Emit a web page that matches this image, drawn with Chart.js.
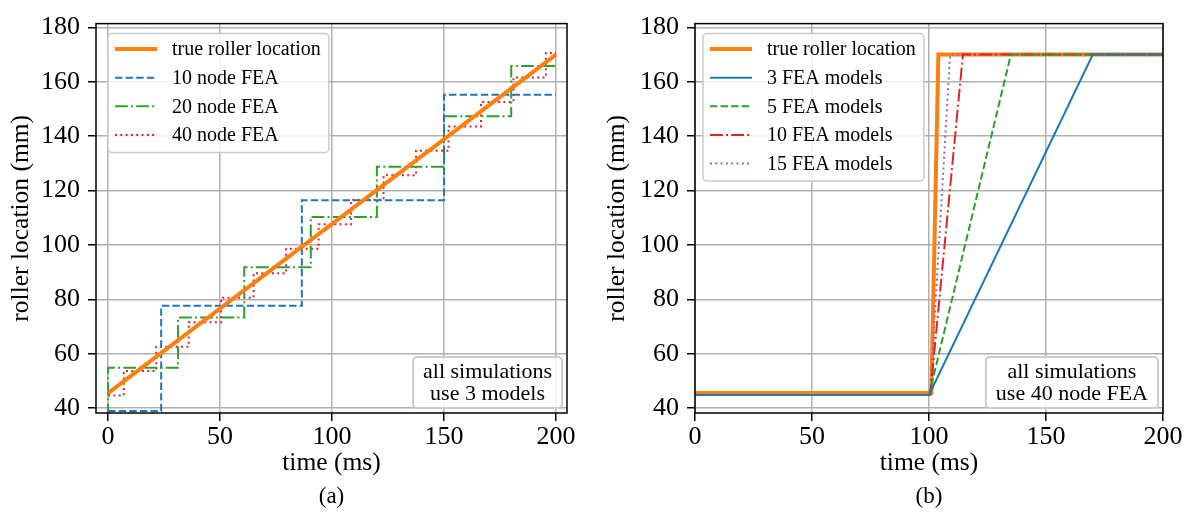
<!doctype html>
<html lang="en">
<head>
  <meta charset="UTF-8">
  <title>Roller location</title>
  <script src="https://cdn.jsdelivr.net/npm/chart.js@4.4.0/dist/chart.umd.min.js"></script>
  <style>
    body { margin: 0; background: #fff; }
    .wrap { position: relative; width: 1192px; height: 516px; }
    canvas { position: absolute; top: 0; }
    #chartA { left: 0; }
    #chartB { left: 596px; }
  </style>
</head>
<body>
<div class="wrap">
  <canvas id="chartA" width="596" height="516"></canvas>
  <canvas id="chartB" width="596" height="516"></canvas>
</div>
<script>
  // (a) all simulations use 3 models
  const timeTrueA = [0, 200];
  const trueA = [45.5, 170];
  const time10 = [0, 23.7, 86.5, 150, 200];
  const fea10 = [38.9, 77.6, 116.4, 155.2, 155.2];
  const time20 = [0, 0, 31.2, 60.8, 90.5, 120, 150, 180, 200];
  const fea20 = [37, 54.8, 73.3, 91.8, 110.3, 128.8, 147.3, 165.8, 165.8];
  const time40 = [0, 7, 21.5, 36, 50.5, 65, 79.5, 94, 108.5, 123, 137.5, 152, 166.5, 181, 195.5, 200];
  const fea40 = [44.6, 53.6, 62.6, 71.6, 80.6, 89.6, 98.6, 107.6, 116.6, 125.6, 134.6, 143.6, 152.6, 161.6, 170.6, 170.6];

  // (b) all simulations use 40 node FEA
  const timeTrueB = [0, 101, 104, 200];
  const trueB = [45.6, 45.6, 170, 170];
  const time3 = [0, 100, 170, 200];
  const models3 = [44.8, 44.8, 170, 170];
  const time5 = [0, 100, 135, 200];
  const models5 = [44.8, 44.8, 170, 170];
  const time10m = [0, 100.5, 114.5, 200];
  const models10 = [44.8, 44.8, 170, 170];
  const time15 = [0, 100.5, 109, 200];
  const models15 = [44.8, 44.8, 170, 170];

  const xTicks = [0, 50, 100, 150, 200];
  const yTicks = [40, 60, 80, 100, 120, 140, 160, 180];

  const serif = "'Liberation Serif', 'Times New Roman', serif";
  Chart.defaults.font.family = serif;
  Chart.defaults.color = '#000';

  const pts = (xs, ys) => xs.map((x, i) => ({ x: x, y: ys[i] }));

  function line(label, xs, ys, color, width, dash, stepped, order) {
    return {
      label: label,
      data: pts(xs, ys),
      borderColor: color,
      borderWidth: width,
      borderDash: dash,
      stepped: stepped || false,
      borderJoinStyle: 'miter',
      pointRadius: 0,
      fill: false,
      tension: 0,
      order: order || 0
    };
  }

  const DASHED = [7.4, 3.2];
  const DASHDOT = [12.8, 3.2, 2, 3.2];
  const DOTTED = [2, 3.3];

  // box, legend, note and caption drawn in matplotlib style
  const decor = {
    id: 'decor',
    afterDatasetsDraw(chart, args, o) {
      const { ctx, chartArea: a } = chart;
      ctx.save();
      ctx.strokeStyle = '#000';
      ctx.lineWidth = 1.5;
      ctx.setLineDash([]);
      ctx.strokeRect(a.left, a.top, a.right - a.left, a.bottom - a.top);

      // legend
      const rowH = 28.6;
      const sets = chart.data.datasets;
      ctx.font = '20px ' + serif;
      let tw = 0;
      sets.forEach(d => { tw = Math.max(tw, ctx.measureText(d.label).width); });
      const bx = a.left + o.legendDx, by = a.top + 10;
      const bw = 64 + tw + 8, bh = sets.length * rowH + 4.5;
      ctx.beginPath();
      ctx.roundRect(bx, by, bw, bh, 4);
      ctx.fillStyle = 'rgba(255,255,255,0.85)';
      ctx.fill();
      ctx.strokeStyle = '#cccccc';
      ctx.lineWidth = 1.5;
      ctx.stroke();
      sets.forEach((d, i) => {
        const y = by + 15.5 + i * rowH;
        ctx.beginPath();
        ctx.setLineDash(d.borderDash || []);
        ctx.strokeStyle = d.borderColor;
        ctx.lineWidth = d.borderWidth;
        ctx.moveTo(bx + 7, y);
        ctx.lineTo(bx + 49, y);
        ctx.stroke();
        ctx.setLineDash([]);
        ctx.fillStyle = '#000';
        ctx.textBaseline = 'middle';
        ctx.textAlign = 'left';
        ctx.fillText(d.label, bx + 64, y + 1);
      });

      // note box
      ctx.font = '22px ' + serif;
      let nw = 0;
      o.note.forEach(t => { nw = Math.max(nw, ctx.measureText(t).width); });
      const nbw = nw + 20, nbh = 51;
      const nx = a.right - 5 - nbw, ny = a.bottom - 5 - nbh;
      ctx.beginPath();
      ctx.roundRect(nx, ny, nbw, nbh, 4);
      ctx.fillStyle = 'rgba(255,255,255,0.85)';
      ctx.fill();
      ctx.strokeStyle = '#cccccc';
      ctx.stroke();
      ctx.fillStyle = '#000';
      ctx.textAlign = 'center';
      ctx.textBaseline = 'middle';
      o.note.forEach((t, i) => ctx.fillText(t, nx + nbw / 2, ny + 15 + i * 22));

      // caption
      ctx.font = '23px ' + serif;
      ctx.fillText(o.caption, (a.left + a.right) / 2, 497);
      ctx.restore();
    }
  };

  function options(xMin, xMax, yWidth, legendDx, note, caption) {
    return {
      responsive: false,
      animation: false,
      devicePixelRatio: 1,
      layout: { padding: { top: 12, right: 29, bottom: 0, left: 0 } },
      plugins: {
        legend: { display: false },
        tooltip: { enabled: false },
        decor: { legendDx: legendDx, note: note, caption: caption }
      },
      scales: {
        x: {
          type: 'linear',
          min: xMin,
          max: xMax,
          afterBuildTicks: s => { s.ticks = xTicks.map(v => ({ value: v })); },
          afterFit: s => { s.height = 103; },
          grid: { color: '#b0b0b0', lineWidth: 1.5, tickColor: '#000', tickLength: 8, tickWidth: 1.5 },
          border: { display: false },
          ticks: { font: { size: 26 }, padding: 1, maxRotation: 0 },
          title: { display: true, text: 'time (ms)', font: { size: 25.5 }, padding: { top: 0, bottom: 37 } }
        },
        y: {
          type: 'linear',
          min: 38.2,
          max: 181.4,
          afterBuildTicks: s => { s.ticks = yTicks.map(v => ({ value: v })); },
          afterFit: s => { s.width = yWidth; },
          grid: { color: '#b0b0b0', lineWidth: 1.5, tickColor: '#000', tickLength: 8, tickWidth: 1.5 },
          border: { display: false },
          ticks: { font: { size: 26 }, padding: 8 },
          title: { display: true, text: 'roller location (mm)', font: { size: 25.5 }, padding: { top: 6, bottom: 0 } }
        }
      }
    };
  }

  new Chart(document.getElementById('chartA'), {
    type: 'line',
    data: {
      datasets: [
        line('true roller location', timeTrueA, trueA, '#ff7f0e', 4, [], false),
        line('10 node FEA', time10, fea10, '#1f77b4', 2, DASHED, true),
        line('20 node FEA', time20, fea20, '#2ca02c', 2, DASHDOT, true),
        line('40 node FEA', time40, fea40, '#d62728', 2, DOTTED, true)
      ]
    },
    options: options(-5.4, 204.9, 96, 12, ['all simulations', 'use 3 models'], '(a)'),
    plugins: [decor]
  });

  new Chart(document.getElementById('chartB'), {
    type: 'line',
    data: {
      datasets: [
        line('true roller location', timeTrueB, trueB, '#ff7f0e', 4, [], false, 1),
        line('3 FEA models', time3, models3, '#1f77b4', 2, [], false),
        line('5 FEA models', time5, models5, '#2ca02c', 2, DASHED, false),
        line('10 FEA models', time10m, models10, '#d62728', 2, DASHDOT, false),
        line('15 FEA models', time15, models15, '#9467bd', 2, DOTTED, false)
      ]
    },
    options: options(0, 200, 99, 8, ['all simulations', 'use 40 node FEA'], '(b)'),
    plugins: [decor]
  });
</script>
</body>
</html>
